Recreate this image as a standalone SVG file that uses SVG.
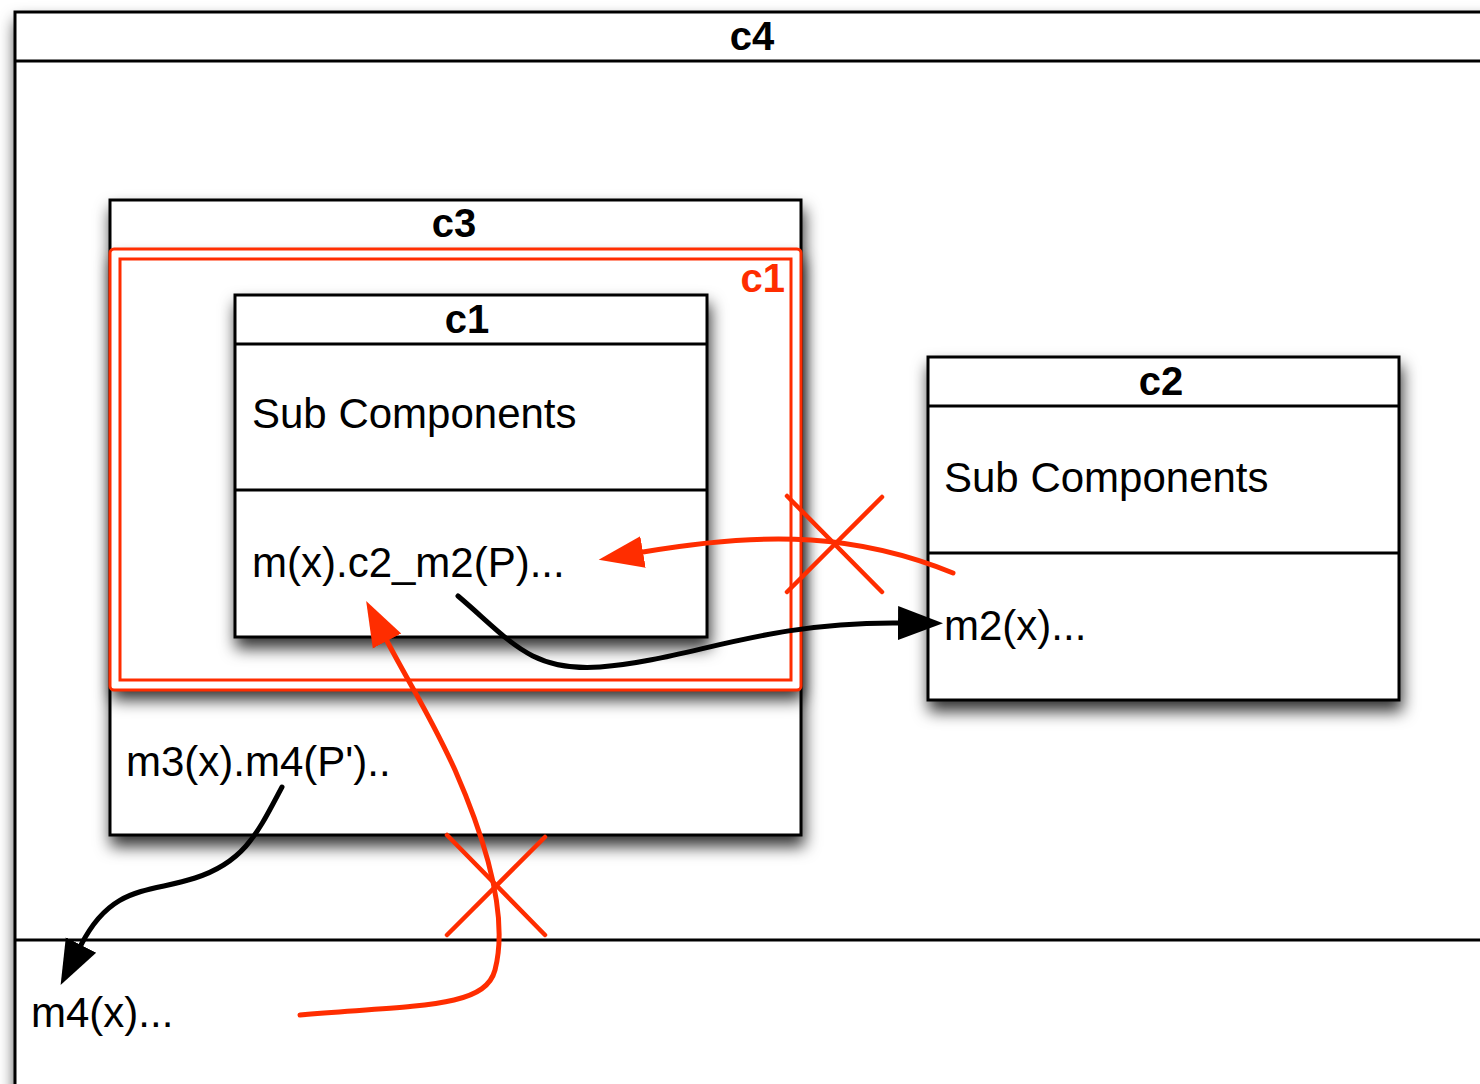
<svg xmlns="http://www.w3.org/2000/svg" width="1480" height="1084" viewBox="0 0 1480 1084">
<style>
.box{fill:#fff;stroke:#000;stroke-width:3}
.line{stroke:#000;stroke-width:3}
.rbox{fill:none;stroke:#ff2d00;stroke-width:3}
.title{font-family:"Liberation Sans",Arial,sans-serif;font-weight:bold;font-size:40px;text-anchor:middle;fill:#000}
.txt{font-family:"Liberation Sans",Arial,sans-serif;font-size:42px;fill:#000}
.blk{fill:none;stroke:#000;stroke-width:5;stroke-linecap:round}
.red{fill:none;stroke:#ff2d00;stroke-width:5;stroke-linecap:round}
.cross{stroke:#ff2d00;stroke-width:4.5;stroke-linecap:round}
</style>
<defs>
<filter id="sh" x="-10%" y="-10%" width="125%" height="130%">
<feDropShadow dx="2" dy="10" stdDeviation="8" flood-color="#000" flood-opacity="0.8"/>
</filter>
<marker id="ab" markerUnits="userSpaceOnUse" markerWidth="50" markerHeight="40" viewBox="0 -20 50 40" refX="0" refY="0" orient="auto">
<path d="M0,-17 L45,0 L0,17 Z" fill="#000"/>
</marker>
<marker id="ar" markerUnits="userSpaceOnUse" markerWidth="50" markerHeight="40" viewBox="0 -20 50 40" refX="0" refY="0" orient="auto">
<path d="M0,-16 L45,0 L0,16 Z" fill="#ff2d00"/>
</marker>
</defs>
<rect width="1480" height="1084" fill="#fff"/>

<g id="c4">
<rect class="box" x="15" y="12" width="1490" height="1100" filter="url(#sh)"/>
<line class="line" x1="15" y1="61" x2="1480" y2="61"/>
<line class="line" x1="15" y1="940" x2="1480" y2="940"/>
<text class="title" x="752" y="50">c4</text>
<text class="txt" x="31" y="1027">m4(x)...</text>
</g>

<g id="c3">
<rect class="box" x="110" y="200" width="691" height="635" filter="url(#sh)"/>
<text class="title" x="454" y="237">c3</text>
<text class="txt" x="126" y="776">m3(x).m4(P')..</text>
</g>

<g id="c1-frame">
<rect x="110" y="249" width="691" height="441" rx="4" fill="#fff" filter="url(#sh)"/>
<rect class="rbox" x="110" y="249" width="691" height="441" rx="4"/>
<rect class="rbox" x="120" y="259" width="671" height="421"/>
<text class="title" x="785" y="292" style="text-anchor:end;fill:#ff2d00">c1</text>
</g>

<g id="c1">
<rect class="box" x="235" y="295" width="472" height="342" filter="url(#sh)"/>
<line class="line" x1="235" y1="344" x2="707" y2="344"/>
<line class="line" x1="235" y1="490" x2="707" y2="490"/>
<text class="title" x="467" y="333">c1</text>
<text class="txt" x="252" y="428">Sub Components</text>
<text class="txt" x="252" y="577">m(x).c2_m2(P)...</text>
</g>

<g id="c2">
<rect class="box" x="928" y="357" width="471" height="343" filter="url(#sh)"/>
<line class="line" x1="928" y1="406" x2="1399" y2="406"/>
<line class="line" x1="928" y1="553" x2="1399" y2="553"/>
<text class="title" x="1161" y="395">c2</text>
<text class="txt" x="944" y="492">Sub Components</text>
<text class="txt" x="944" y="640">m2(x)...</text>
</g>

<g id="connectors">
<path class="blk" d="M458,596 C510,640 530,672 600,667 C690,660 760,622 898,623" marker-end="url(#ab)"/>
<path class="red" d="M953,573 C860,535 770,530 643,552" marker-end="url(#ar)"/>
<line class="cross" x1="787" y1="496" x2="882" y2="592"/>
<line class="cross" x1="882" y1="497" x2="787" y2="592"/>
<path class="blk" d="M282,787 C258,832 245,862 195,878 C150,893 112,884 81,945" marker-end="url(#ab)"/>
<path class="red" d="M300,1015 C420,1005 485,1008 495,970 C508,920 490,850 455,770 C430,715 410,685 387,641" marker-end="url(#ar)"/>
<line class="cross" x1="447" y1="835" x2="545" y2="935"/>
<line class="cross" x1="545" y1="837" x2="447" y2="935"/>
</g>
</svg>
